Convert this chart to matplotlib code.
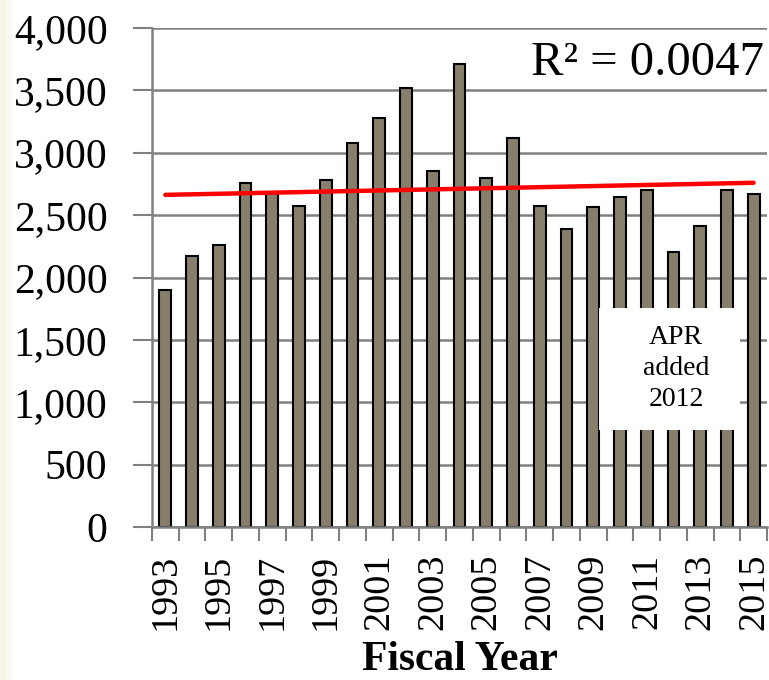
import numpy as np
import matplotlib.pyplot as plt
from matplotlib.patches import Rectangle

# Datos
years = list(range(1993, 2016))
values = [1900, 2170, 2260, 2760, 2680, 2575, 2785, 3080, 3275, 3520, 2850, 3715,
          2795, 3120, 2575, 2390, 2565, 2645, 2705, 2205, 2410, 2700, 2670]
y_ticks = [0, 500, 1000, 1500, 2000, 2500, 3000, 3500, 4000]
r2_label = "R² = 0.0047"
note_text = "APR\nadded\n2012"

plt.rcParams["font.family"] = ["Liberation Serif", "DejaVu Serif"]

fig = plt.figure(figsize=(7.69, 6.8), dpi=100)
# franja crema en el borde izquierdo
fig.patches.append(Rectangle((0, 0), 6 / 769, 1, transform=fig.transFigure,
                             color="#f6f4e6", zorder=0))
fig.patches.append(Rectangle((6 / 769, 0), 5 / 769, 1, transform=fig.transFigure,
                             color="#fbfaf2", zorder=0))
ax = fig.add_axes([152 / 769, 1 - 527 / 680, 615 / 769, 499 / 680])

x = np.arange(len(years))
ax.bar(x, values, width=0.44, color="#877f6c", edgecolor="black", linewidth=1.5, zorder=2)

# Linea de tendencia (regresion lineal)
coef = np.polyfit(x, values, 1)
ax.plot([x[0], x[-1]], np.polyval(coef, [x[0], x[-1]]), color="#ff0000", lw=3.2,
        solid_capstyle="round", zorder=3)

ax.set_xlim(-0.5, len(years) - 0.5)
ax.set_ylim(0, 4000)
ax.set_yticks(y_ticks)
ax.set_yticklabels([f"{v:,}" for v in y_ticks], fontsize=30)
ax.yaxis.grid(True, color="#808080", lw=1.8, zorder=1)
ax.set_axisbelow(True)

ax.set_xticks(np.arange(len(years) + 1) - 0.5)
ax.set_xticklabels([])
ax.set_xticks(x[::2], minor=True)
ax.set_xticklabels([str(y) for y in years[::2]], minor=True, rotation=90, fontsize=27.5)
ax.tick_params(axis="x", which="minor", length=0, pad=19)
ax.tick_params(axis="x", which="major", length=10, width=1.5, color="#808080")
ax.tick_params(axis="y", length=14, width=1.5, color="#808080", pad=18)

for s in ["top", "right"]:
    ax.spines[s].set_visible(False)
for s in ["left", "bottom"]:
    ax.spines[s].set_color("#808080")
    ax.spines[s].set_linewidth(1.8)

ax.set_xlabel("Fiscal Year", fontsize=30, fontweight="bold", labelpad=8)

ax.text(0.995, 0.93, r2_label, transform=ax.transAxes, ha="right", va="center",
        fontsize=35)
ax.add_patch(Rectangle((16.22, 778), 5.26, 977, facecolor="white", edgecolor="none",
                       zorder=4))
ax.text(19.1, 1270, note_text, ha="center", va="center", fontsize=20,
        linespacing=1.33, zorder=5)

fig.savefig("out.png", dpi=100)
